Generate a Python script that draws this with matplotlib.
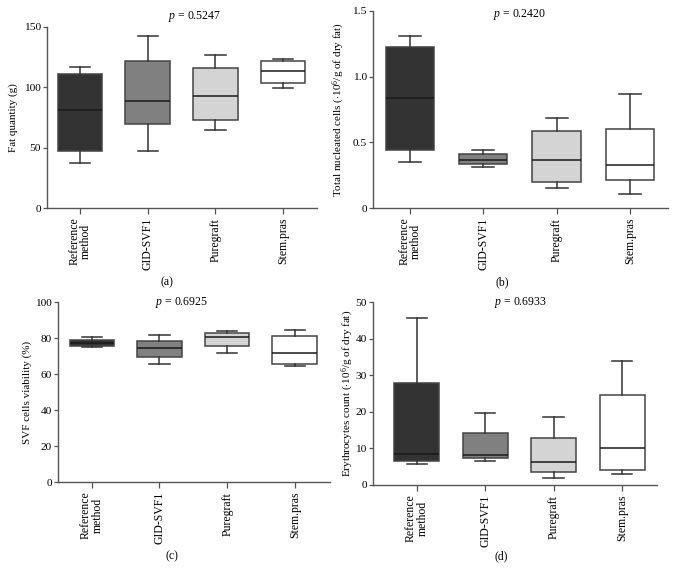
import matplotlib
matplotlib.use("Agg")
import matplotlib.pyplot as plt

plt.rcParams['font.family'] = ['Liberation Serif', 'DejaVu Serif']
plt.rcParams['mathtext.fontset'] = 'custom'
plt.rcParams['mathtext.rm'] = 'Liberation Serif'
plt.rcParams['mathtext.it'] = 'Liberation Serif:italic'

categories = ["Reference\nmethod", "GID-SVF1", "Puregraft", "Stem.pras"]
box_colors = ["#333333", "#808080", "#d4d4d4", "#ffffff"]

# each: [whislo, q1, med, q3, whishi]
fat_quantity = [[37.3, 47.0, 80.9, 111.3, 116.6],
                [47.0, 69.9, 89.0, 122.0, 142.8],
                [64.6, 72.9, 92.8, 116.0, 126.8],
                [99.7, 103.6, 113.3, 121.5, 123.5]]
nucleated_cells = [[0.347, 0.438, 0.834, 1.226, 1.31],
                   [0.309, 0.332, 0.367, 0.41, 0.438],
                   [0.149, 0.198, 0.365, 0.588, 0.689],
                   [0.106, 0.213, 0.324, 0.605, 0.869]]
svf_viability = [[74.9, 75.8, 77.3, 78.8, 80.6],
                 [65.7, 69.7, 74.2, 78.4, 81.9],
                 [71.4, 75.8, 80.8, 82.8, 84.0],
                 [64.6, 65.3, 71.6, 81.2, 84.7]]
erythrocytes = [[5.7, 6.5, 8.6, 27.8, 45.5],
                [6.5, 7.3, 8.1, 14.1, 19.7],
                [2.0, 3.6, 6.2, 12.8, 18.5],
                [2.9, 4.0, 10.0, 24.5, 33.9]]

p_values = ["0.5247", "0.2420", "0.6925", "0.6933"]
ylabels = ["Fat quantity (g)",
           "Total nucleated cells ($\\cdot$10$^6$/g of dry fat)",
           "SVF cells viability (%)",
           "Erythrocytes count ($\\cdot$10$^6$/g of dry fat)"]
captions = ["(a)", "(b)", "(c)", "(d)"]
yticks = [[0, 50, 100, 150], [0, 0.5, 1.0, 1.5], [0, 20, 40, 60, 80, 100], [0, 10, 20, 30, 40, 50]]
yticklabels = [["0", "50", "100", "150"], ["0", "0.5", "1.0", "1.5"],
               ["0", "20", "40", "60", "80", "100"], ["0", "10", "20", "30", "40", "50"]]

W, H = 675, 578
fig = plt.figure(figsize=(W / 100, H / 100), dpi=100)

def fx(px):
    return px / W

def fy(py):
    return 1 - py / H

# (left, right, top, bottom) in px, xlim
layouts = [
    dict(box=(47, 317, 27, 208), xlim=(0.51, 4.5), p=(195, 17), cap=(167, 282), yl=13),
    dict(box=(373, 668, 11, 208), xlim=(0.495, 4.52), p=(520, 14), cap=(502, 282), yl=339),
    dict(box=(58, 330, 302, 482), xlim=(0.5, 4.52), p=(182, 303), cap=(172, 556), yl=27),
    dict(box=(373, 657, 302, 485), xlim=(0.36, 4.51), p=(520, 303), cap=(501, 556), yl=348),
]
datasets = [fat_quantity, nucleated_cells, svf_viability, erythrocytes]
ylims = [(0, 150), (0, 1.5), (0, 100), (0, 50)]

for i, (lay, data) in enumerate(zip(layouts, datasets)):
    l, r, t, b = lay["box"]
    ax = fig.add_axes([fx(l), fy(b), fx(r - l), fy(t) - fy(b)])
    stats = []
    for cat, d in zip(categories, data):
        stats.append(dict(label=cat, whislo=d[0], q1=d[1], med=d[2], q3=d[3], whishi=d[4], fliers=[]))
    bp = ax.bxp(stats, positions=[1, 2, 3, 4], widths=0.66, patch_artist=True,
                showfliers=False, capwidths=0.3,
                boxprops=dict(edgecolor="#444444", linewidth=1.1),
                whiskerprops=dict(color="#333333", linewidth=1.1),
                capprops=dict(color="#333333", linewidth=1.1),
                medianprops=dict(color="#1a1a1a", linewidth=1.1))
    for patch, c in zip(bp["boxes"], box_colors):
        patch.set_facecolor(c)
    ax.set_xlim(*lay["xlim"])
    ax.set_ylim(*ylims[i])
    ax.set_yticks(yticks[i])
    ax.set_yticklabels(yticklabels[i])
    ax.set_xticks([1, 2, 3, 4])
    ax.set_xticklabels(categories, rotation=90, fontsize=8.5, linespacing=0.95)
    ax.tick_params(axis='y', labelsize=8.2, length=3, width=0.9, color="#555555", pad=1.5)
    ax.tick_params(axis='x', length=4, width=0.9, color="#555555", pad=3)
    for s in ["top", "right"]:
        ax.spines[s].set_visible(False)
    for s in ["left", "bottom"]:
        ax.spines[s].set_color("#555555")
        ax.spines[s].set_linewidth(1.0)
    px, py = lay["p"]
    fig.text(fx(px), fy(py), "$p$ = " + p_values[i], ha="center", va="center", fontsize=8.5)
    cx, cy = lay["cap"]
    fig.text(fx(cx), fy(cy), captions[i], ha="center", va="center", fontsize=8.5)
    fig.text(fx(lay["yl"]), (fy(t) + fy(b)) / 2, ylabels[i], rotation=90,
             ha="center", va="center", fontsize=8.0)

fig.savefig("out.png", dpi=100)
